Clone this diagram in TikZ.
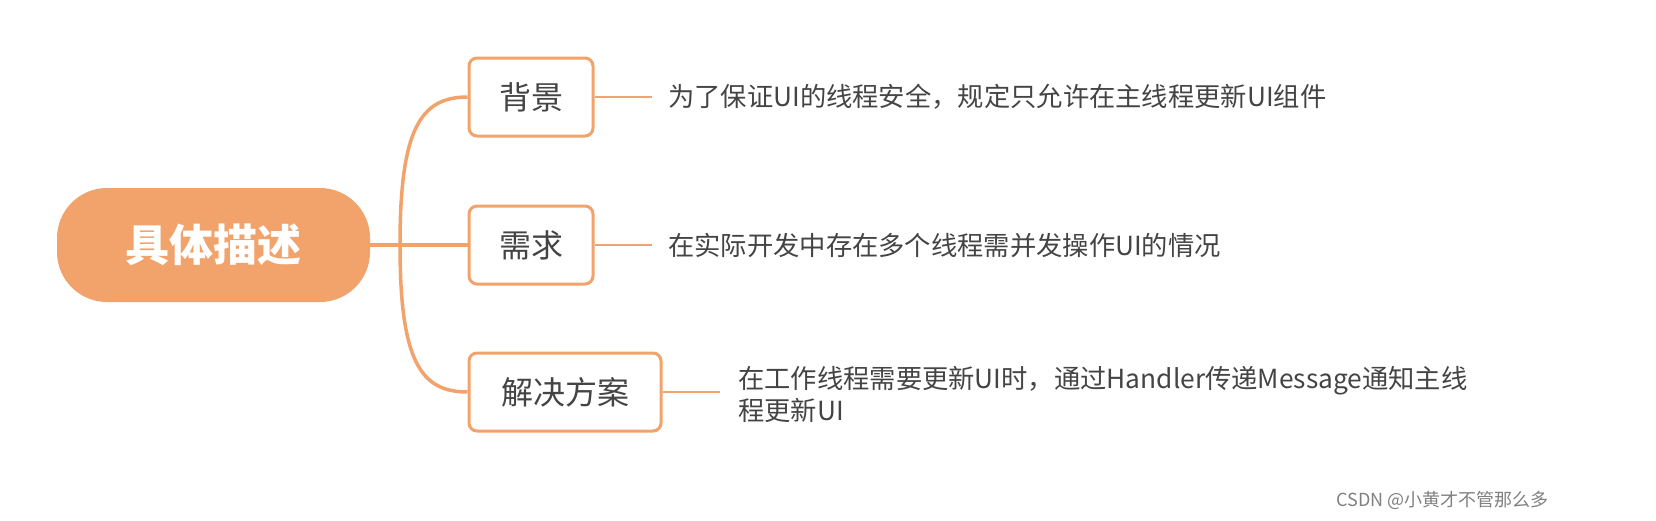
\documentclass[tikz,border=0pt]{standalone}
\usepackage{fontspec}
\setmainfont{Noto Sans CJK SC}
\definecolor{org}{HTML}{F2A36B}
\definecolor{txt}{HTML}{444444}
\begin{document}
\begin{tikzpicture}[x=1pt,y=-1pt,
  box/.style={draw=org,line width=3pt,rounded corners=8pt,fill=white,text=txt,font=\fontsize{32}{34}\selectfont,inner sep=0pt,minimum height=78pt},
  lbl/.style={text=txt,font=\fontsize{26.3}{32}\selectfont,anchor=west,align=left,inner sep=0pt},
  con/.style={draw=org,line width=3.5pt}]
\useasboundingbox (0,0) rectangle (1656,520);
\node[fill=org,rounded corners=50pt,minimum width=313pt,minimum height=114pt,text=white,font=\fontsize{44}{46}\selectfont\bfseries] (root) at (213.5,245) {具体描述};
\node[box,minimum width=124pt] (a) at (531,97) {背景};
\node[box,minimum width=124pt] (b) at (531,245) {需求};
\node[box,minimum width=192pt] (c) at (565,392) {解决方案};
\coordinate (j) at (400,245);
\draw[con] (root.east) -- (b.west);
\draw[con] (root.east) -- (j) .. controls (400,130) and (420,97) .. (a.west);
\draw[con] (j) .. controls (400,360) and (420,392) .. (c.west);
\node[lbl] (ta) at (668,97) {为了保证UI的线程安全，规定只允许在主线程更新UI组件};
\node[lbl] (tb) at (668,245) {在实际开发中存在多个线程需并发操作UI的情况};
\node[lbl] (tc) at (738,394) {在工作线程需要更新UI时，通过Handler传递Message通知主线\\程更新UI};
\draw[con,line width=2.5pt] (a.east) -- (652,97);
\draw[con,line width=2.5pt] (b.east) -- (652,245);
\draw[con,line width=2.5pt] (c.east) -- (720,392);
\node[text=gray,font=\fontsize{18}{20}\selectfont,anchor=east] (wm) at (1552,500) {CSDN @小黄才不管那么多};
\end{tikzpicture}
\end{document}
